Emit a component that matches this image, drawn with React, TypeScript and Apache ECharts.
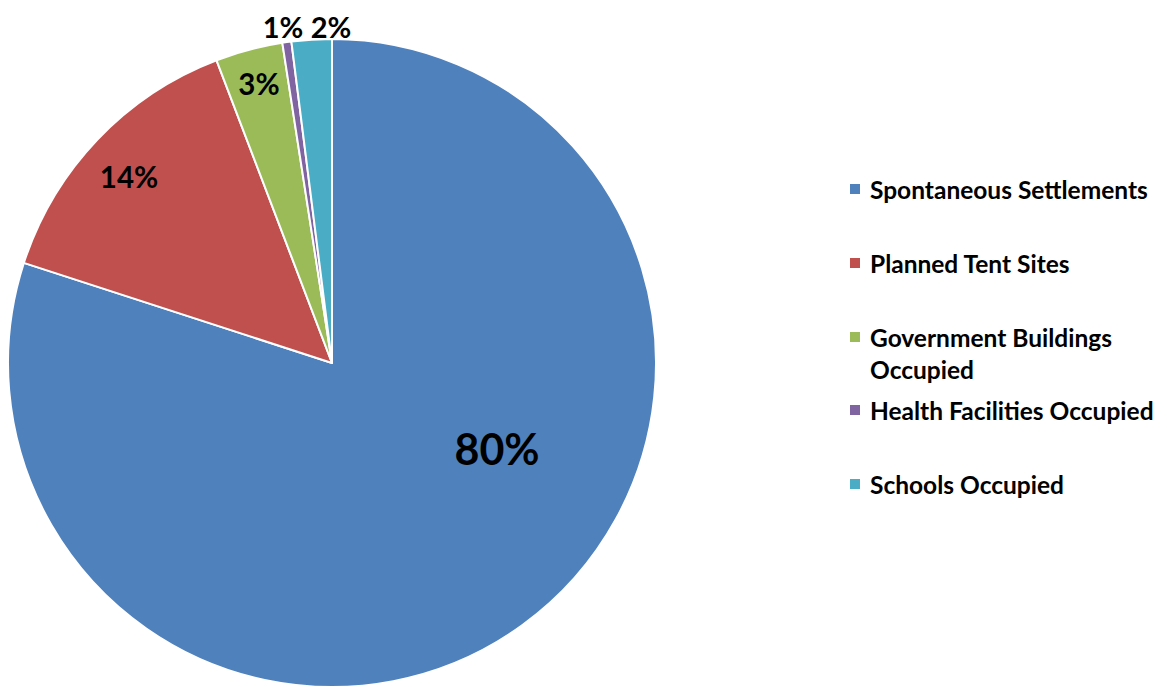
import React, { useEffect, useRef } from "react";
import * as echarts from "echarts";

const categories = [
  "Spontaneous Settlements",
  "Planned Tent Sites",
  "Government Buildings Occupied",
  "Health Facilities Occupied",
  "Schools Occupied",
];
const shares = [80.0, 14.2, 3.35, 0.45, 2.0];
const colors = ["#4F81BD", "#C0504D", "#9BBB59", "#8064A2", "#4BACC6"];

// label anchor positions (layout only)
const LABEL_POS: [number, number][] = [
  [497, 448],
  [129, 176],
  [259, 83],
  [283, 26],
  [331, 26],
];
const LABEL_SIZE = [43, 29.5, 29.5, 29, 29];
const LEGEND_Y = [189, 263, 337, 410, 484];

const FONT = "Lato, 'Open Sans', sans-serif";

export default function App() {
  const ref = useRef<HTMLDivElement>(null);
  useEffect(() => {
    document.body.style.margin = "0";
    const chart = echarts.init(ref.current!, null, { renderer: "svg" });
    const legends = categories.map((name, i) => {
      const twoLine = i === 2;
      const lh = twoLine ? 32 : 28;
      return {
        data: [name],
        left: 848,
        top: twoLine ? LEGEND_Y[i] - 48 : LEGEND_Y[i] - lh / 2,
        orient: "vertical",
        padding: 0,
        icon: "rect",
        itemWidth: 12,
        itemHeight: 12,
        selectedMode: false,
        formatter: twoLine ? "\nGovernment Buildings\nOccupied" : "{name}",
        textStyle: {
          fontFamily: FONT,
          fontWeight: "bold",
          fontSize: 24.5,
          color: "#000",
          lineHeight: lh,
          padding: [0, 0, 0, 4],
        },
      };
    });
    chart.setOption({
      animation: false,
      backgroundColor: "#fff",
      legend: legends,
      series: [
        {
          type: "pie",
          center: [332, 363],
          radius: 324,
          startAngle: 90,
          clockwise: true,
          percentPrecision: 0,
          itemStyle: { borderColor: "#fff", borderWidth: 2 },
          label: {
            show: true,
            position: "inside",
            formatter: "{d}%",
            fontFamily: FONT,
            fontWeight: "bold",
            color: "#000",
          },
          labelLine: { show: false },
          labelLayout: (params: any) => {
            const p = LABEL_POS[params.dataIndex];
            return { x: p[0], y: p[1], align: "center", verticalAlign: "middle" };
          },
          emphasis: { disabled: true },
          data: categories.map((name, i) => ({
            name,
            value: shares[i],
            itemStyle: { color: colors[i] },
            label: { fontSize: LABEL_SIZE[i] },
          })),
        },
      ],
    });
    return () => chart.dispose();
  }, []);
  return (
    <div
      ref={ref}
      style={{ position: "absolute", left: 0, top: 0, width: 1167, height: 687 }}
    />
  );
}
